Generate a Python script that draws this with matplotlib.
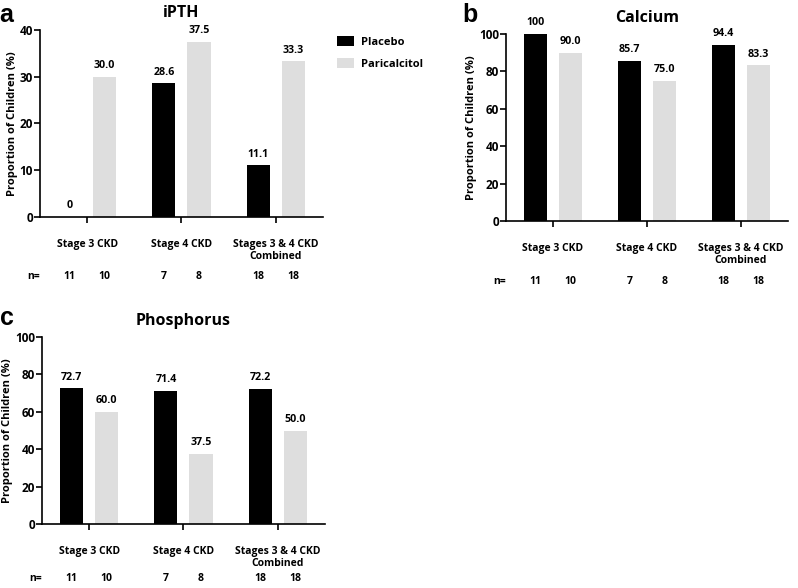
import numpy as np
import matplotlib
matplotlib.use("Agg")
import matplotlib.pyplot as plt
from matplotlib.patches import Patch

plt.rcParams['font.family'] = ['Open Sans', 'DejaVu Sans']
plt.rcParams['font.weight'] = 'bold'

groups = ["Stage 3 CKD", "Stage 4 CKD", "Stages 3 & 4 CKD\nCombined"]
series = ["Placebo", "Paricalcitol"]

ipth_placebo = [0, 28.6, 11.1]
ipth_paric = [30.0, 37.5, 33.3]
calcium_placebo = [100, 85.7, 94.4]
calcium_paric = [90.0, 75.0, 83.3]
phos_placebo = [72.7, 71.4, 72.2]
phos_paric = [60.0, 37.5, 50.0]

n_placebo = [11, 7, 18]
n_paric = [10, 8, 18]

colors = ["#000000", "#dedede"]

W, H = 798, 588
fig = plt.figure(figsize=(W / 100, H / 100), dpi=100)

# letter, letter pos (px), title, placebo, paricalcitol, ymax, ystep, n-row y, axes rect
panels = [
    ("a", (6.5, 22), "iPTH", ipth_placebo, ipth_paric, 40, 10, -0.32, [0.0501, 0.631, 0.3546, 0.318]),
    ("b", (469.5, 22), "Calcium", calcium_placebo, calcium_paric, 100, 20, -0.325, [0.634, 0.6241, 0.3534, 0.318]),
    ("c", (6.5, 325), "Phosphorus", phos_placebo, phos_paric, 100, 20, -0.29, [0.0526, 0.1088, 0.3546, 0.318]),
]

x = np.arange(len(groups))
w = 0.245
off = 0.186

for letter, lpos, title, pl, pa, ymax, ystep, ny, rect in panels:
    ax = fig.add_axes(rect)
    for vals, c, sgn in [(pl, colors[0], -1), (pa, colors[1], 1)]:
        ax.bar(x + sgn * off, vals, width=w, color=c, linewidth=0)
        for xi, v in zip(x + sgn * off, vals):
            lab = "100" if v == 100 else ("0" if v == 0 else "%.1f" % v)
            ax.annotate(lab, (xi, v), xytext=(0, 4), textcoords="offset points",
                        ha="center", va="bottom", fontsize=7.7, fontweight="bold")
    ax.set_xlim(-0.5, 2.5)
    ax.set_ylim(0, ymax)
    ax.set_yticks(np.arange(0, ymax + 1, ystep))
    ax.set_xticks(x)
    ax.set_xticklabels(groups, fontsize=7.5, fontweight="bold", linespacing=1.1)
    ax.tick_params(axis="x", length=4, width=1.2, pad=12)
    ax.tick_params(axis="y", length=4, width=1.2, labelsize=8.5, pad=1)
    for t in ax.get_yticklabels():
        t.set_fontweight("bold")
    for s in ["top", "right"]:
        ax.spines[s].set_visible(False)
    for s in ["left", "bottom"]:
        ax.spines[s].set_linewidth(1.2)
    ax.set_ylabel("Proportion of Children (%)", fontsize=8, fontweight="bold", labelpad=1.5)
    ax.set_title(title, fontsize=11.5, fontweight="bold", pad=9)
    fig.text(lpos[0] / W, 1 - lpos[1] / H, letter, fontsize=18, fontweight="bold",
             family="Liberation Sans", ha="center", va="baseline")
    trans = ax.get_xaxis_transform()
    ax.text(-0.57, ny, "n=", transform=trans, ha="center", va="center",
            fontsize=7.5, fontweight="bold")
    for xi, n1, n2 in zip(x, n_placebo, n_paric):
        ax.text(xi - off, ny, str(n1), transform=trans, ha="center", va="center",
                fontsize=7.5, fontweight="bold")
        ax.text(xi + off, ny, str(n2), transform=trans, ha="center", va="center",
                fontsize=7.5, fontweight="bold")

handles = [Patch(facecolor=colors[0]), Patch(facecolor=colors[1])]
fig.legend(handles, series, loc="upper left", bbox_to_anchor=(0.41, 0.955),
           frameon=False, prop={"weight": "bold", "size": 8},
           handlelength=1.5, handleheight=1.0, labelspacing=0.9, handletextpad=0.6)

fig.savefig("out.png", dpi=100)
